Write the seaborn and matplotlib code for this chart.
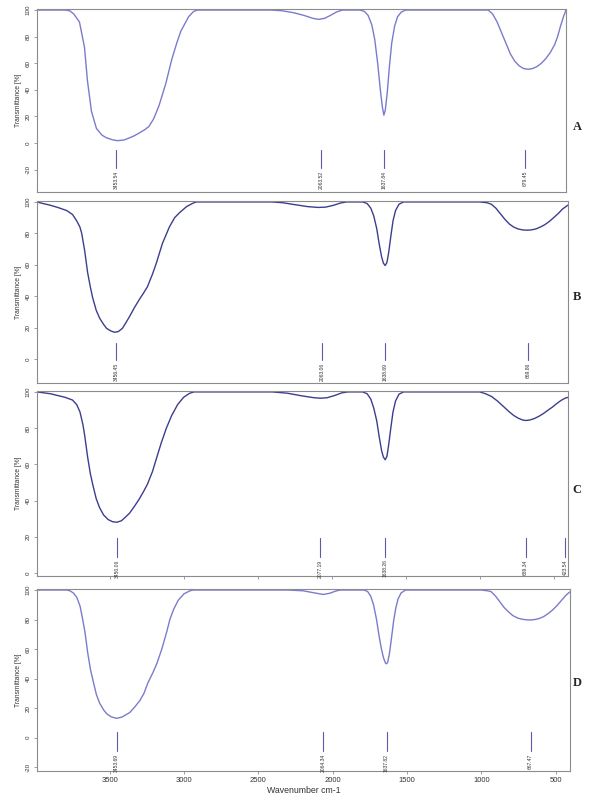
import matplotlib
matplotlib.use("Agg")
import matplotlib.pyplot as plt
import seaborn as sns
import pandas as pd

sns.set_style("white")
plt.rcParams['font.family'] = ['Liberation Sans', 'DejaVu Sans']

# ---------------- data ----------------
wn_A = [3990, 3800, 3769, 3740, 3702, 3668, 3648, 3621, 3587, 3550, 3520, 3480, 3446, 3400, 3365,
        3330, 3298, 3260, 3231, 3200, 3163, 3116, 3076, 3040, 3015, 2962, 2928, 2900,
        2400, 2330, 2250, 2180, 2120, 2080, 2040, 2000, 1960, 1920,
        1800, 1770, 1745, 1720, 1700, 1680, 1660, 1648, 1638, 1628, 1615, 1600, 1585, 1565, 1545, 1520, 1490,
        930, 900, 870, 840, 810, 780, 750, 720, 690, 660, 630, 600, 570, 540, 510, 480, 460, 440, 420, 403]
T_A = [100, 100, 99.5, 97, 91, 72, 47, 24, 11, 6, 4, 2.5, 1.8, 2.3, 3.8,
       5.5, 7.5, 10, 12.5, 18, 28, 45, 63, 76, 84, 95, 99, 100,
       100, 99.5, 98, 96, 93.8, 93, 93.8, 96, 98.5, 100,
       100, 99, 96, 89, 78, 60, 38, 27, 21, 25, 38, 58, 75, 88, 95, 98.5, 100,
       100, 97, 91, 83, 75, 67, 61.5, 58, 56, 55.5, 56, 57.5, 60, 63.5, 68, 74, 80, 88, 95, 100]

wn_B = [3990, 3950, 3904, 3850, 3789, 3750, 3722, 3700, 3688, 3668, 3648, 3630, 3614, 3590, 3567,
        3540, 3520, 3490, 3466, 3440, 3413, 3390, 3365, 3330, 3298, 3270, 3244, 3210, 3184, 3143,
        3096, 3060, 3029, 2980, 2941, 2915,
        2400, 2330, 2250, 2160, 2090, 2040, 1990, 1940, 1900,
        1790, 1760, 1735, 1715, 1695, 1678, 1662, 1650, 1638, 1626, 1614, 1600, 1585, 1568, 1545, 1515,
        1000, 950, 920, 890, 860, 830, 800, 770, 740, 710, 680, 650, 620, 590, 560, 530, 500, 470, 440, 403]
T_B = [100, 99, 98, 96.5, 94.5, 92, 88, 84, 80, 69, 55, 46, 39, 31, 26,
       22, 19.5, 17.8, 17, 17.5, 19.5, 23, 27, 33, 38, 42, 46, 54, 61, 73.5,
       84, 90, 93, 97, 99, 100,
       100, 99.5, 98.3, 97, 96.5, 96.7, 97.8, 99.3, 100,
       100, 99, 96, 91, 83, 73, 65, 61, 59.5, 61.5, 68, 78, 88, 94.5, 98.5, 100,
       100, 99.5, 98.5, 96, 92.5, 89, 86, 84, 82.8, 82.2, 82, 82.2, 82.8, 84, 85.5, 87.5, 90, 92.5, 95.5, 98]

wn_C = [3990, 3900, 3800, 3750, 3722, 3700, 3680, 3668, 3648, 3630, 3614, 3590, 3567, 3540, 3510,
        3480, 3450, 3420, 3390, 3365, 3330, 3298, 3270, 3244, 3210, 3184, 3150, 3116, 3080, 3040,
        3000, 2960, 2930,
        2400, 2300, 2200, 2120, 2077, 2030, 1980, 1930, 1890,
        1790, 1760, 1735, 1715, 1695, 1678, 1662, 1650, 1638, 1626, 1614, 1600, 1585, 1568, 1545, 1515,
        1000, 960, 920, 880, 840, 800, 770, 740, 710, 689, 660, 630, 600, 570, 540, 510, 480, 450, 423, 403]
T_C = [100, 99, 97, 95.5, 93, 89, 82, 76, 64, 55, 49, 41, 36, 32, 29.5,
       28.3, 28, 28.8, 31, 33, 37, 41, 45, 49, 56, 63, 72, 80, 87, 93,
       97, 99.2, 100,
       100, 99.3, 97.8, 96.8, 96.5, 96.8, 98, 99.5, 100,
       100, 99, 96, 91, 84, 75, 67.5, 64, 62.5, 64.5, 71, 80, 89, 95, 98.7, 100,
       100, 99, 97.5, 95, 92, 89, 87, 85.5, 84.5, 84.2, 84.5, 85.3, 86.5, 88, 89.8, 91.5, 93.5, 95.3, 96.5, 97]

wn_D = [3990, 3790, 3769, 3745, 3722, 3700, 3688, 3668, 3648, 3630, 3614, 3590, 3567, 3540, 3520,
        3490, 3455, 3420, 3390, 3365, 3330, 3298, 3270, 3244, 3210, 3184, 3150, 3116, 3096, 3070,
        3040, 3000, 2960, 2940,
        2300, 2200, 2120, 2064, 2020, 1980, 1950,
        1790, 1765, 1745, 1725, 1705, 1688, 1672, 1658, 1645, 1638, 1630, 1618, 1605, 1590, 1575, 1560, 1540, 1510,
        1000, 960, 935, 905, 875, 845, 815, 785, 755, 725, 695, 667, 640, 610, 580, 550, 520, 490, 460, 430, 403]
T_D = [100, 100, 99.5, 98, 95, 89, 83, 72, 57, 46, 39, 29, 23, 18.5, 16,
       14, 13, 13.8, 15.5, 17, 21, 25, 30, 37, 44, 50, 60, 72, 80, 87,
       93, 97.5, 99.5, 100,
       100, 99.5, 98, 97, 97.8, 99.3, 100,
       100, 99, 96, 90, 80, 69, 60, 54, 50.5, 50, 51, 57, 67, 79, 88, 94, 98, 100,
       100, 99.5, 99, 96, 92, 88, 85, 82.5, 81, 80.2, 79.8, 79.7, 80, 80.7, 82, 84, 86.5, 89.5, 93, 96.5, 98.8]

peaks_A = ["3453.54", "2063.52", "1637.84", "679.45"]
peaks_B = ["3456.45", "2063.06", "1638.69", "669.86"]
peaks_C = ["3450.06", "2077.19", "1638.26", "689.34", "423.54"]
peaks_D = ["3453.69", "2064.34", "1637.82", "667.47"]

panel_names = ["A", "B", "C", "D"]
x_ticks = [3500, 3000, 2500, 2000, 1500, 1000, 500]

# ---------------- layout / style ----------------
W, H = 590, 797
fig = plt.figure(figsize=(W / 100, H / 100), dpi=100)

panels = [
    # name, wn, T, peaks, (left, right, top, bottom) px, ylim, yticks, label line (y1, y2), color, letter y
    ("A", wn_A, T_A, peaks_A, (37, 566, 9, 192), (-36.8, 100.8), [-20, 0, 20, 40, 60, 80, 100], (-5, -19), "#7b7bcc", 127),
    ("B", wn_B, T_B, peaks_B, (37, 568, 201, 383), (-15.3, 100.6), [0, 20, 40, 60, 80, 100], (10, -0.9), "#3d3d8f", 297),
    ("C", wn_C, T_C, peaks_C, (37, 568, 391, 576), (-1.7, 100.5), [0, 20, 40, 60, 80, 100], (19.5, 9), "#3d3d8f", 490),
    ("D", wn_D, T_D, peaks_D, (37, 570, 589, 771), (-22.7, 100.7), [-20, 0, 20, 40, 60, 80, 100], (4, -9), "#7b7bcc", 683),
]

spine_col = "#8c8c8c"
for i, (name, wn, T, peaks, (l, r, t, b), ylim, yt, (y1, y2), col, ly) in enumerate(panels):
    ax = fig.add_axes([l / W, 1 - b / H, (r - l) / W, (b - t) / H])
    df = pd.DataFrame({"wn": wn, "T": T})
    sns.lineplot(data=df, x="wn", y="T", ax=ax, sort=False, estimator=None,
                 color=col, lw=1.0)
    ax.set_xlim(3990, 403)
    ax.set_ylim(*ylim)
    ax.set_yticks(yt)
    ax.set_yticklabels([str(v) for v in yt], rotation=90, va="center", fontsize=4.5, color="#333333")
    ax.set_ylabel("Transmittance [%]", fontsize=4.8, color="#333333", labelpad=3)
    for s in ax.spines.values():
        s.set_color(spine_col)
        s.set_linewidth(0.8)
    ax.tick_params(axis="y", length=2.5, width=0.6, color=spine_col, pad=2, left=True)
    if name in ("C", "D"):
        ax.set_xticks(x_ticks)
        ax.tick_params(axis="x", length=2.5, width=0.6, color=spine_col, pad=2, bottom=True)
    else:
        ax.set_xticks([])
    if name == "D":
        ax.set_xticklabels([str(v) for v in x_ticks], fontsize=5.5, color="#333333")
        ax.set_xlabel("Wavenumber cm-1", fontsize=6.3, color="#333333", labelpad=1)
    else:
        ax.set_xticklabels([])
        ax.set_xlabel("")
    # peak annotations
    for p in peaks:
        xv = float(p)
        ax.plot([xv, xv], [y1, y2], color="#5a5aaa", lw=0.8)
        ax.text(xv, y2 - (y1 - y2) * 0.15, p, rotation=90, ha="center", va="top",
                fontsize=3.6, color="#333333")
    fig.text(577 / W, 1 - ly / H, name, ha="center", va="center", fontsize=9,
             fontweight="bold", family=["Liberation Serif", "DejaVu Serif"])

fig.savefig("out.png", dpi=100, facecolor="white")
